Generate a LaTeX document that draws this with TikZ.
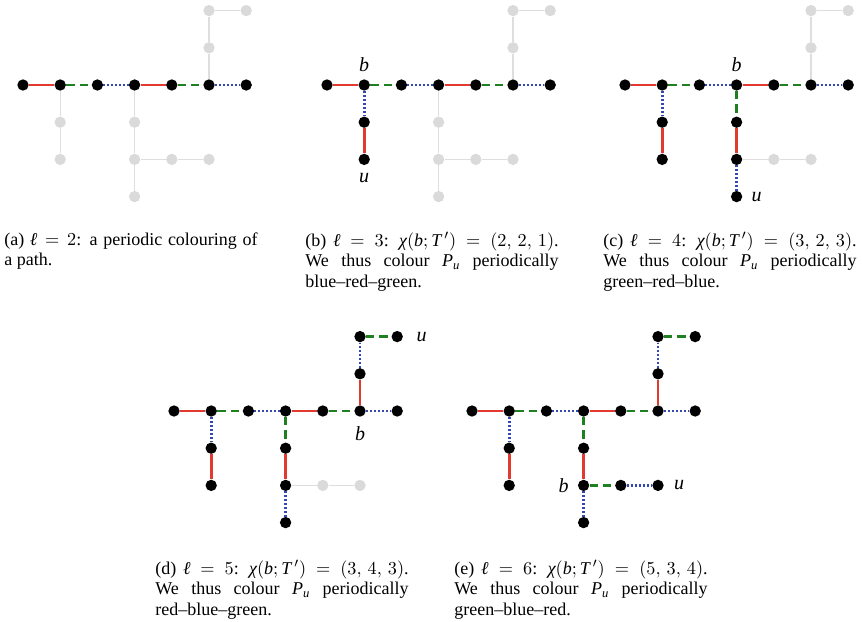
\documentclass[tikz,border=0pt]{standalone}
\usepackage{amsmath}
\usepackage{fontspec}
\setmainfont{Liberation Serif}
\usetikzlibrary{calc}
\definecolor{cred}{RGB}{226,58,46}
\definecolor{cgreen}{RGB}{30,128,30}
\definecolor{cblue}{RGB}{52,72,178}
\definecolor{cgray}{RGB}{218,218,218}
\definecolor{cline}{RGB}{222,222,222}
\newcommand\mv[1]{\text{\itshape #1}}
\tikzset{
  bk/.style={circle,fill=black,inner sep=0pt,minimum size=6.8pt},
  gy/.style={circle,fill=cgray,inner sep=0pt,minimum size=6.8pt},
  er/.style={draw=cred,line width=1.6pt},
  eg/.style={draw=cgreen,line width=1.6pt,dash pattern=on 5pt off 3pt},
  eb/.style={draw=cblue,line width=1.6pt,dash pattern=on 1.2pt off 1.2pt},
  ey/.style={draw=cline,line width=0.8pt},
  lab/.style={font=\fontsize{12}{14}\selectfont\itshape,inner sep=0pt},
  captext/.style={anchor=north west,text width=152pt,align=justify,inner sep=0pt,
    font=\fontsize{10.8}{12.3}\selectfont},
  treeunits/.style={x=22.32pt,y=22.32pt}
}
\begin{document}
\begin{tikzpicture}[x=0.6pt,y=-0.6pt]
\useasboundingbox (0,0) rectangle (862,621);

% ---------- (a)
\begin{scope}[shift={(23,85)},treeunits]
\foreach \n/\i/\j/\s in {m0/0/0/bk,m1/1/0/bk,m2/2/0/bk,m3/3/0/bk,m4/4/0/bk,m5/5/0/bk,m6/6/0/bk,
  p1/1/-1/gy,p2/1/-2/gy,q1/3/-1/gy,q2/3/-2/gy,q3/3/-3/gy,q4/4/-2/gy,q5/5/-2/gy,r1/5/1/gy,r2/5/2/gy,r3/6/2/gy}
  \node[\s] (a\n) at (\i,\j) {};
\foreach \u/\v/\s in {m0/m1/er,m1/m2/eg,m2/m3/eb,m3/m4/er,m4/m5/eg,m5/m6/eb,
  m1/p1/ey,p1/p2/ey,m3/q1/ey,q1/q2/ey,q2/q3/ey,q2/q4/ey,q4/q5/ey,m5/r1/ey,r1/r2/ey,r2/r3/ey}
  \draw[\s] (a\u) -- (a\v);
\end{scope}
\node[captext] (capa) at (4,232) {(a) $\mv{ℓ} = 2$: a periodic colouring of\linebreak a path.};

% ---------- (b)
\begin{scope}[shift={(327,85)},treeunits]
\foreach \n/\i/\j/\s in {m0/0/0/bk,m1/1/0/bk,m2/2/0/bk,m3/3/0/bk,m4/4/0/bk,m5/5/0/bk,m6/6/0/bk,
  p1/1/-1/bk,p2/1/-2/bk,q1/3/-1/gy,q2/3/-2/gy,q3/3/-3/gy,q4/4/-2/gy,q5/5/-2/gy,r1/5/1/gy,r2/5/2/gy,r3/6/2/gy}
  \node[\s] (b\n) at (\i,\j) {};
\foreach \u/\v/\s in {m0/m1/er,m1/m2/eg,m2/m3/eb,m3/m4/er,m4/m5/eg,m5/m6/eb,
  m1/p1/eb,p1/p2/er,m3/q1/ey,q1/q2/ey,q2/q3/ey,q2/q4/ey,q4/q5/ey,m5/r1/ey,r1/r2/ey,r2/r3/ey}
  \draw[\s] (b\u) -- (b\v);
\end{scope}
\node[lab] (bb) at ($(bm1)+(0,12pt)$) {b};
\node[lab] (bu) at ($(bp2)+(0,-11.4pt)$) {u};
\node[captext] (capb) at (305,232) {(b) $\mv{ℓ} = 3$: $\mv{χ}(\mv{b};\mv{T}\,') = (2,\,2,\,1)$.\linebreak We thus colour $\mv{P}_{\mv{u}}$ periodically\linebreak blue--red--green.};

% ---------- (c)
\begin{scope}[shift={(625,85)},treeunits]
\foreach \n/\i/\j/\s in {m0/0/0/bk,m1/1/0/bk,m2/2/0/bk,m3/3/0/bk,m4/4/0/bk,m5/5/0/bk,m6/6/0/bk,
  p1/1/-1/bk,p2/1/-2/bk,q1/3/-1/bk,q2/3/-2/bk,q3/3/-3/bk,q4/4/-2/gy,q5/5/-2/gy,r1/5/1/gy,r2/5/2/gy,r3/6/2/gy}
  \node[\s] (c\n) at (\i,\j) {};
\foreach \u/\v/\s in {m0/m1/er,m1/m2/eg,m2/m3/eb,m3/m4/er,m4/m5/eg,m5/m6/eb,
  m1/p1/eb,p1/p2/er,m3/q1/eg,q1/q2/er,q2/q3/eb,q2/q4/ey,q4/q5/ey,m5/r1/ey,r1/r2/ey,r2/r3/ey}
  \draw[\s] (c\u) -- (c\v);
\end{scope}
\node[lab] (cb) at ($(cm3)+(0,12pt)$) {b};
\node[lab] (cu) at ($(cq3)+(12pt,0)$) {u};
\node[captext] (capc) at (603,232) {(c) $\mv{ℓ} = 4$: $\mv{χ}(\mv{b};\mv{T}\,') = (3,\,2,\,3)$.\linebreak We thus colour $\mv{P}_{\mv{u}}$ periodically\linebreak green--red--blue.};

% ---------- (d)
\begin{scope}[shift={(174,411)},treeunits]
\foreach \n/\i/\j/\s in {m0/0/0/bk,m1/1/0/bk,m2/2/0/bk,m3/3/0/bk,m4/4/0/bk,m5/5/0/bk,m6/6/0/bk,
  p1/1/-1/bk,p2/1/-2/bk,q1/3/-1/bk,q2/3/-2/bk,q3/3/-3/bk,q4/4/-2/gy,q5/5/-2/gy,r1/5/1/bk,r2/5/2/bk,r3/6/2/bk}
  \node[\s] (d\n) at (\i,\j) {};
\foreach \u/\v/\s in {m0/m1/er,m1/m2/eg,m2/m3/eb,m3/m4/er,m4/m5/eg,m5/m6/eb,
  m1/p1/eb,p1/p2/er,m3/q1/eg,q1/q2/er,q2/q3/eb,q2/q4/ey,q4/q5/ey,m5/r1/er,r1/r2/eb,r2/r3/eg}
  \draw[\s] (d\u) -- (d\v);
\end{scope}
\node[lab] (db) at ($(dm5)+(0,-13.8pt)$) {b};
\node[lab] (du) at ($(dr3)+(14.6pt,0)$) {u};
\node[captext] (capd) at (155,560) {(d) $\mv{ℓ} = 5$: $\mv{χ}(\mv{b};\mv{T}\,') = (3,\,4,\,3)$.\linebreak We thus colour $\mv{P}_{\mv{u}}$ periodically\linebreak red--blue--green.};

% ---------- (e)
\begin{scope}[shift={(472,411)},treeunits]
\foreach \n/\i/\j/\s in {m0/0/0/bk,m1/1/0/bk,m2/2/0/bk,m3/3/0/bk,m4/4/0/bk,m5/5/0/bk,m6/6/0/bk,
  p1/1/-1/bk,p2/1/-2/bk,q1/3/-1/bk,q2/3/-2/bk,q3/3/-3/bk,q4/4/-2/bk,q5/5/-2/bk,r1/5/1/bk,r2/5/2/bk,r3/6/2/bk}
  \node[\s] (e\n) at (\i,\j) {};
\foreach \u/\v/\s in {m0/m1/er,m1/m2/eg,m2/m3/eb,m3/m4/er,m4/m5/eg,m5/m6/eb,
  m1/p1/eb,p1/p2/er,m3/q1/eg,q1/q2/er,q2/q3/eb,q2/q4/eg,q4/q5/eb,m5/r1/er,r1/r2/eb,r2/r3/eg}
  \draw[\s] (e\u) -- (e\v);
\end{scope}
\node[lab] (elb) at ($(eq2)+(-12pt,0)$) {b};
\node[lab] (elu) at ($(eq5)+(12.6pt,0)$) {u};
\node[captext] (cape) at (454,560) {(e) $\mv{ℓ} = 6$: $\mv{χ}(\mv{b};\mv{T}\,') = (5,\,3,\,4)$.\linebreak We thus colour $\mv{P}_{\mv{u}}$ periodically\linebreak green--blue--red.};
\end{tikzpicture}
\end{document}
